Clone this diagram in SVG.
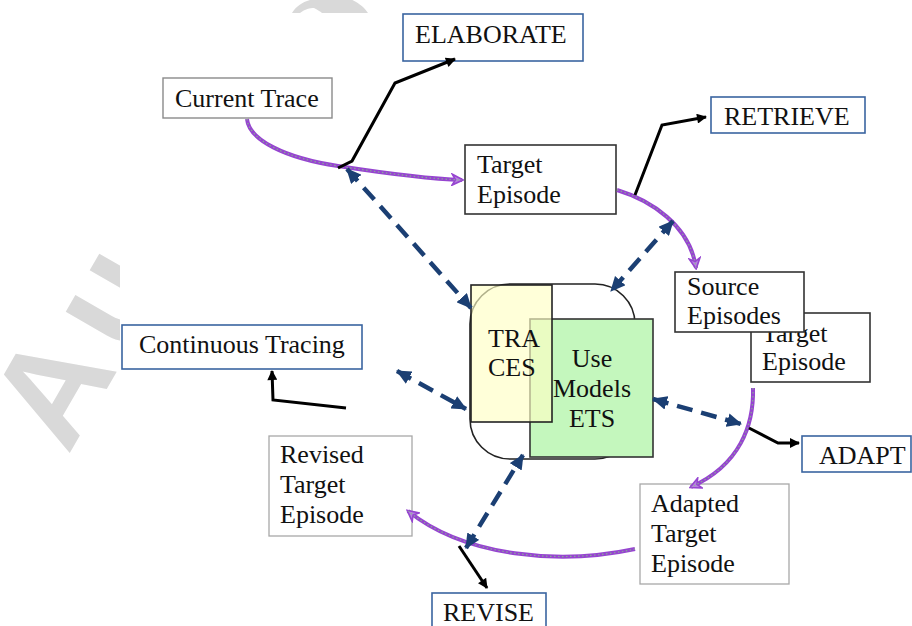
<svg xmlns="http://www.w3.org/2000/svg" width="912" height="626" viewBox="0 0 912 626">
  <style>
    .txt { font-family: "Liberation Serif", "Times New Roman", serif; font-size: 26px; fill: #111; }
    .box-blue { fill: #fff; stroke: #3a64a0; stroke-width: 1.6; }
    .box-dark { fill: #fff; stroke: #333; stroke-width: 1.6; }
    .box-gray { fill: #fff; stroke: #8a8a8a; stroke-width: 1.4; }
    .box-light { fill: #fff; stroke: #a8a8a8; stroke-width: 1.3; }
    .flow { fill: none; stroke: #9645d0; stroke-width: 4; }
    .flow-tex { fill: none; stroke: #86c486; stroke-width: 1.2; stroke-dasharray: 1.5 2.5; opacity: 0.8; }
    .step { fill: none; stroke: #000; stroke-width: 3; stroke-linejoin: miter; }
    .link { fill: none; stroke: #1b3f73; stroke-width: 4.5; stroke-dasharray: 16 9; }
    .mark { fill: #d9d9d9; }
  </style>
  <defs>
    <marker id="arr-black" viewBox="0 0 10 10" refX="9" refY="5" markerWidth="11" markerHeight="10" markerUnits="userSpaceOnUse" orient="auto">
      <path d="M0,0 L10,5 L0,10 Z" fill="#000"/>
    </marker>
    <marker id="arr-blue" viewBox="0 0 14 13" refX="13" refY="6.5" markerWidth="15" markerHeight="14" markerUnits="userSpaceOnUse" orient="auto-start-reverse">
      <path d="M0,0 L14,6.5 L0,13 Z" fill="#1b3f73"/>
    </marker>
    <marker id="arr-flow" viewBox="0 0 12 12" refX="10" refY="6" markerWidth="13" markerHeight="13" markerUnits="userSpaceOnUse" orient="auto">
      <path d="M1,1 L11,6 L1,11 L4,6 Z" fill="#b784de" stroke="#9645d0" stroke-width="1.5"/>
    </marker>
    <clipPath id="margin-clip">
      <path d="M0,0 H912 V13 H120 V626 H0 Z"/>
    </clipPath>
  </defs>

  <rect width="912" height="626" fill="#fff"/>

  <!-- faint background lettering in the margins -->
  <g id="margin-marks" clip-path="url(#margin-clip)">
    <text class="mark" x="0" y="0" transform="translate(68,456) rotate(-60)" font-family="Liberation Sans, Arial, sans-serif" font-weight="bold" font-size="140" letter-spacing="14">Au</text>
    <path class="mark" fill-rule="evenodd" d="M292,13 C298,3 310,-2 325,-2 L348,-2 C358,2 365,8 368,13 Z M300,13 C305,9 310,8 314,8 C318,10 321,12 322,13 Z"/>
  </g>

  <!-- central store: rounded frame with TRACES and models -->
  <g id="store">
    <rect x="470" y="284" width="165" height="175" rx="40" ry="40" fill="#fff" stroke="#222" stroke-width="1.6"/>
  </g>
  <g id="models">
    <rect x="530" y="319" width="123" height="138" fill="#c4f7bd" stroke="#333" stroke-width="1.6"/>
  </g>
  <g id="traces">
    <rect x="471" y="285" width="81" height="137" fill="#ffffc4" fill-opacity="0.65" stroke="#222" stroke-width="1.6"/>
    <text class="txt" x="488" y="347">TRA</text>
    <text class="txt" x="488" y="376">CES</text>
  </g>
  <g id="models-label">
    <text class="txt" x="592" y="367" text-anchor="middle">Use</text>
    <text class="txt" x="592" y="397" text-anchor="middle">Models</text>
    <text class="txt" x="592" y="427" text-anchor="middle">ETS</text>
  </g>

  <!-- process nodes -->
  <g id="elaborate">
    <rect class="box-blue" x="403" y="14" width="180" height="47"/>
    <text class="txt" x="415" y="43">ELABORATE</text>
  </g>
  <g id="current-trace">
    <rect class="box-gray" x="163" y="78" width="169" height="40"/>
    <text class="txt" x="175" y="107">Current Trace</text>
  </g>
  <g id="target-episode">
    <rect class="box-dark" x="465" y="145" width="151" height="69"/>
    <text class="txt" x="477" y="173">Target</text>
    <text class="txt" x="477" y="203">Episode</text>
  </g>
  <g id="retrieve">
    <rect class="box-blue" x="711" y="97" width="154" height="36"/>
    <text class="txt" x="724" y="125">RETRIEVE</text>
  </g>
  <g id="target-episode-2">
    <rect class="box-dark" x="751" y="313" width="119" height="69"/>
    <text class="txt" x="762" y="342">Target</text>
    <text class="txt" x="762" y="370">Episode</text>
  </g>
  <g id="source-episodes">
    <rect class="box-dark" x="675" y="272" width="129" height="60"/>
    <text class="txt" x="687" y="295">Source</text>
    <text class="txt" x="687" y="324">Episodes</text>
  </g>
  <g id="adapt">
    <rect class="box-blue" x="802" y="436" width="109" height="36"/>
    <text class="txt" x="819" y="464">ADAPT</text>
  </g>
  <g id="adapted-target-episode">
    <rect class="box-light" x="640" y="484" width="149" height="100"/>
    <text class="txt" x="651" y="512">Adapted</text>
    <text class="txt" x="651" y="542">Target</text>
    <text class="txt" x="651" y="572">Episode</text>
  </g>
  <g id="revise">
    <rect class="box-blue" x="432" y="593" width="114" height="40"/>
    <text class="txt" x="443" y="621">REVISE</text>
  </g>
  <g id="revised-target-episode">
    <rect class="box-light" x="269" y="436" width="143" height="100"/>
    <text class="txt" x="280" y="463">Revised</text>
    <text class="txt" x="280" y="493">Target</text>
    <text class="txt" x="280" y="523">Episode</text>
  </g>
  <g id="continuous-tracing">
    <rect class="box-blue" x="122" y="325" width="240" height="44"/>
    <text class="txt" x="139" y="353">Continuous Tracing</text>
  </g>

  <!-- connectors -->
  <g id="connectors">
    <!-- cycle flow -->
    <path class="flow" d="M247,119 C249,140 285,158 338,166 C390,174 430,179 462,180" marker-end="url(#arr-flow)"/>
    <path class="flow-tex" d="M247,119 C249,140 285,158 338,166 C390,174 430,179 462,180"/>
    <path class="flow" d="M617,190 C650,200 690,225 696,268" marker-end="url(#arr-flow)"/>
    <path class="flow-tex" d="M617,190 C650,200 690,225 696,268"/>
    <path class="flow" d="M753,388 C754,425 740,465 691,487" marker-end="url(#arr-flow)"/>
    <path class="flow-tex" d="M753,388 C754,425 740,465 691,487"/>
    <path class="flow" d="M635,549 C560,565 465,557 408,511" marker-end="url(#arr-flow)"/>
    <path class="flow-tex" d="M635,549 C560,565 465,557 408,511"/>

    <!-- step outputs -->
    <polyline class="step" points="338,168 352,161 395,83 455,59" marker-end="url(#arr-black)"/>
    <polyline class="step" points="635,195 662,125 706,117" marker-end="url(#arr-black)"/>
    <polyline class="step" points="749,428 778,443 799,443" marker-end="url(#arr-black)"/>
    <polyline class="step" points="459,546 487,588" marker-end="url(#arr-black)"/>
    <polyline class="step" points="346,408 273,400 272,371" marker-end="url(#arr-black)"/>

    <!-- links to the central store -->
    <line class="link" x1="347" y1="169" x2="471" y2="308" marker-start="url(#arr-blue)" marker-end="url(#arr-blue)"/>
    <line class="link" x1="673" y1="221" x2="611" y2="291" marker-start="url(#arr-blue)" marker-end="url(#arr-blue)"/>
    <line class="link" x1="397" y1="371" x2="466" y2="409" marker-start="url(#arr-blue)" marker-end="url(#arr-blue)"/>
    <line class="link" x1="653" y1="399" x2="741" y2="424" marker-start="url(#arr-blue)" marker-end="url(#arr-blue)"/>
    <line class="link" x1="466" y1="548" x2="523" y2="455" marker-start="url(#arr-blue)" marker-end="url(#arr-blue)"/>
  </g>
</svg>
